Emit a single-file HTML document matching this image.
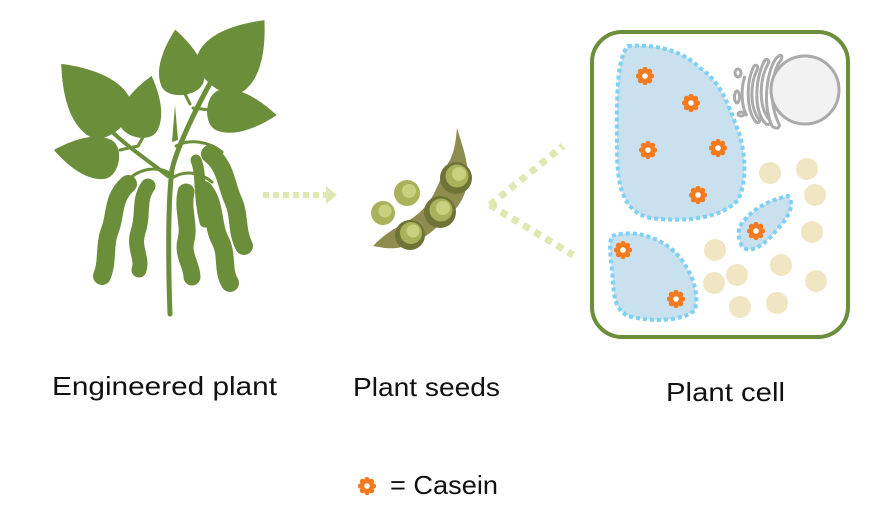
<!DOCTYPE html>
<html><head><meta charset="utf-8"><style>
body{margin:0;background:#fff}
svg{display:block}
text{font-family:"Liberation Sans",sans-serif;fill:#111}
</style></head><body>
<svg width="886" height="527" viewBox="0 0 886 527" xmlns="http://www.w3.org/2000/svg">
<defs>
<path id="leaf" d="M0,-34 C18,-16 30,4 24,20 C18,34 -18,34 -24,20 C-30,4 -18,-16 0,-34Z"/>
<g id="star">
<g fill="#f47a20">
<circle r="6.5"/>
<circle cx="0" cy="-6.5" r="2.6"/><circle cx="0" cy="6.5" r="2.6"/>
<circle cx="6.5" cy="0" r="2.6"/><circle cx="-6.5" cy="0" r="2.6"/>
<circle cx="4.6" cy="4.6" r="2.6"/><circle cx="-4.6" cy="4.6" r="2.6"/>
<circle cx="4.6" cy="-4.6" r="2.6"/><circle cx="-4.6" cy="-4.6" r="2.6"/>
</g>
<circle r="2.8" fill="#fff"/>
</g>
</defs>

<!-- Plant -->
<g fill="#6b8e3a">
<use href="#leaf" transform="translate(92,98) rotate(-42) scale(1.15,1.35)"/>
<use href="#leaf" transform="translate(143,108) rotate(15) scale(0.8,0.98)"/>
<use href="#leaf" transform="translate(180,64) rotate(-8) scale(0.88,1.02)"/>
<use href="#leaf" transform="translate(236,54) rotate(40) scale(1.2,1.3)"/>
<use href="#leaf" transform="translate(240,112) rotate(95) scale(0.85,1.08)"/>
<use href="#leaf" transform="translate(88,156) rotate(-80) scale(0.82,1.02)"/>
</g>
<g fill="none" stroke="#6b8e3a" stroke-linecap="round">
<path d="M170,314 C168,260 168,200 172,170 C176,150 195,110 213,78" stroke-width="5"/>
<path d="M168,176 C150,162 125,145 108,128" stroke-width="4"/>
<path d="M120,150 L138,146 L146,132" stroke-width="3"/>
<path d="M193,108 L210,110" stroke-width="3"/>
<path d="M190,104 L185,94" stroke-width="3"/>
<path d="M172,175 C160,165 140,168 128,180" stroke-width="3"/>
<path d="M172,178 C185,170 200,172 212,182" stroke-width="3"/>
<path d="M176,146 C190,138 210,142 222,152" stroke-width="3"/>
</g>
<path d="M172,142 L175,105 L178,140 Z" fill="#6b8e3a"/>
<g fill="none" stroke="#6b8e3a" stroke-linecap="round">
<!-- pods -->
<path d="M128,184 C112,198 116,215 110,230 C104,245 108,262 102,276" stroke-width="18"/>
<path d="M148,186 C138,200 144,215 138,232 C133,248 143,258 139,270" stroke-width="15"/>
<path d="M186,192 C182,210 190,225 186,240 C182,255 192,265 192,277" stroke-width="17"/>
<path d="M204,190 C216,205 212,225 220,240 C228,255 222,270 230,283" stroke-width="18"/>
<path d="M210,154 C226,166 226,185 233,200 C240,215 236,230 244,246" stroke-width="18"/>
<path d="M196,160 C202,175 198,195 205,222" stroke-width="11"/>
</g>

<!-- arrow -->
<line x1="263" y1="195" x2="328" y2="195" stroke="#dfe8b0" stroke-width="6" stroke-dasharray="6,4"/>
<polygon points="326,186 337,195 326,204" fill="#dfe8b0"/>

<!-- pod -->
<path d="M373,246 C392,226 405,226 420,212 C436,198 440,176 450,160 C455,150 456,138 457,128 C463,148 470,165 467,185 C463,205 450,216 436,228 C420,242 404,250 385,248 Z" fill="#8f8c50"/>
<g>
<circle cx="456" cy="178" r="16" fill="#6e7436"/><circle cx="457" cy="176" r="11.5" fill="#a9b25a"/><circle cx="459" cy="174" r="7" fill="#c8d27e"/>
<circle cx="440" cy="212" r="16" fill="#6e7436"/><circle cx="441" cy="210" r="11.5" fill="#a9b25a"/><circle cx="443" cy="208" r="7" fill="#c8d27e"/>
<circle cx="410" cy="235" r="15" fill="#6e7436"/><circle cx="411" cy="233" r="11" fill="#a9b25a"/><circle cx="413" cy="231" r="6.5" fill="#c8d27e"/>
<circle cx="407" cy="193" r="13" fill="#a9b25a"/><circle cx="409" cy="191" r="7" fill="#c8d27e"/>
<circle cx="383" cy="213" r="12" fill="#a9b25a"/><circle cx="385" cy="211" r="6.5" fill="#c8d27e"/>
</g>

<!-- diverging dotted lines -->
<line x1="490" y1="205" x2="563" y2="146" stroke="#dfe8b0" stroke-width="7" stroke-dasharray="7,6"/>
<line x1="490" y1="205" x2="573" y2="255" stroke="#dfe8b0" stroke-width="7" stroke-dasharray="7,6"/>

<!-- cell -->
<rect x="592" y="32" width="256" height="305" rx="30" fill="#fff" stroke="#6b8e3a" stroke-width="4"/>
<g fill="#f0e6c3">
<circle cx="770" cy="173" r="11"/><circle cx="807" cy="169" r="11"/><circle cx="815" cy="195" r="11"/>
<circle cx="812" cy="232" r="11"/><circle cx="715" cy="250" r="11"/><circle cx="781" cy="265" r="11"/>
<circle cx="816" cy="281" r="11"/><circle cx="714" cy="283" r="11"/><circle cx="737" cy="275" r="11"/>
<circle cx="740" cy="307" r="11"/><circle cx="777" cy="303" r="11"/>
</g>
<g fill="#c9e0ee" stroke="#7fd0f5" stroke-width="4" stroke-dasharray="4,3">
<path d="M628,46 C650,44 680,48 700,68 C722,82 730,110 738,130 C745,150 748,180 738,200 C720,220 680,222 650,218 C625,212 617,190 617,150 C617,110 615,60 628,46Z"/>
<path d="M740,226 C752,208 770,200 788,196 C796,205 788,218 775,232 C762,248 748,254 742,246 C738,238 738,232 740,226Z"/>
<path d="M612,236 C630,230 655,234 675,252 C690,268 700,290 695,310 C682,322 650,322 628,316 C612,308 614,290 612,270 C610,255 609,242 612,236Z"/>
</g>
<g fill="none" stroke="#aaa" stroke-width="3">
<path d="M779,56 C770,60 760,100 772,126 C776,130 782,128 778,122 C768,100 772,70 781,60 C783,56 781,54 779,56Z"/>
<path d="M765,60 C756,75 752,110 766,124 C770,126 772,122 768,118 C758,104 760,78 768,64 C770,60 767,58 765,60Z"/>
<path d="M754,66 C746,82 746,110 756,122 C759,124 761,121 758,118 C750,106 750,84 757,70 C759,66 756,64 754,66Z"/>
<path d="M745,76 C740,90 742,108 747,116"/>
<ellipse cx="738" cy="73" rx="3" ry="4"/>
<ellipse cx="737" cy="97" rx="2.5" ry="6"/>
<ellipse cx="741" cy="114" rx="3" ry="2"/>
</g>
<circle cx="805" cy="90" r="34" fill="#f2f2f2" stroke="#aaa" stroke-width="3"/>
<use href="#star" x="645" y="76"/>
<use href="#star" x="691" y="103"/>
<use href="#star" x="648" y="150"/>
<use href="#star" x="718" y="148"/>
<use href="#star" x="698" y="195"/>
<use href="#star" x="756" y="231"/>
<use href="#star" x="623" y="250"/>
<use href="#star" x="676" y="299"/>
<use href="#star" x="367" y="486"/>

<text x="52" y="395" font-size="26" textLength="225" lengthAdjust="spacingAndGlyphs">Engineered plant</text>
<text x="353" y="396" font-size="26" textLength="147" lengthAdjust="spacingAndGlyphs">Plant seeds</text>
<text x="666" y="401" font-size="26" textLength="119" lengthAdjust="spacingAndGlyphs">Plant cell</text>
<text x="390" y="494" font-size="26" textLength="108" lengthAdjust="spacingAndGlyphs">= Casein</text>
</svg>
</body></html>
